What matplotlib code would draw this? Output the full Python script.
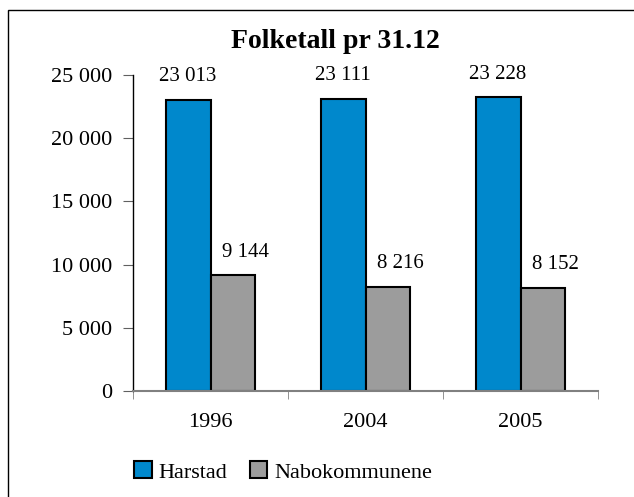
import numpy as np
import matplotlib.pyplot as plt
from matplotlib.patches import Rectangle

# Data
years = ['1996', '2004', '2005']
harstad = [23013, 23111, 23228]
nabo = [9144, 8216, 8152]
yticks = [0, 5000, 10000, 15000, 20000, 25000]
ytick_labels = ['0', '5 000', '10 000', '15 000', '20 000', '25 000']

plt.rcParams['font.family'] = ['Liberation Serif', 'DejaVu Serif']

fig = plt.figure(figsize=(6.34, 4.97), dpi=100)
ax = fig.add_axes([133 / 634, 106 / 497, 465 / 634, 316 / 497])

x = np.arange(len(years))
w = 0.29
b1 = ax.bar(x - w / 2, harstad, w, color='#0088CC', edgecolor='black', linewidth=1.5, label='Harstad')
b2 = ax.bar(x + w / 2, nabo, w, color='#9C9C9C', edgecolor='black', linewidth=1.5, label='Nabokommunene')

# value labels, space as thousands separator (grey ones sit a bit to the right)
for bars, vals, dx in [(b1, harstad, 0), (b2, nabo, 9)]:
    for r, v in zip(bars, vals):
        ax.annotate(f'{v:,}'.replace(',', ' '), (r.get_x() + r.get_width() / 2, v),
                    xytext=(dx, 10), textcoords='offset points', ha='center', va='bottom', fontsize=15)

ax.set_xlim(-0.5, 2.5)
ax.set_ylim(0, 25000)
ax.set_yticks(yticks)
ax.set_yticklabels(ytick_labels, fontsize=16)
ax.set_xticks(x)
ax.set_xticklabels(years, fontsize=16)
ax.tick_params(axis='x', length=0, pad=16)
ax.set_xticks([-0.5, 0.5, 1.5, 2.5], minor=True)
ax.tick_params(axis='x', which='minor', length=6, color='#808080', direction='out')
ax.tick_params(axis='y', length=7, color='#606060', pad=8)

for s in ['top', 'right']:
    ax.spines[s].set_visible(False)
ax.spines['left'].set_color('black')
ax.spines['left'].set_linewidth(1)
ax.spines['bottom'].set_color('#808080')
ax.spines['bottom'].set_linewidth(1.5)

fig.text(335 / 634, 1 - 42 / 497, 'Folketall pr 31.12', ha='center', va='center',
         fontsize=20, fontweight='bold')

fig.legend(handles=[b1, b2], loc='center', bbox_to_anchor=(283 / 634, 1 - 472 / 497),
           ncol=2, frameon=False, fontsize=16, handlelength=0.8, handleheight=0.8,
           handletextpad=0.3, columnspacing=1.0)

# outer frame (only left and top edges visible in the original)
fig.patches.append(Rectangle((8 / 634, -0.1), 1.2, 1.1 - 10 / 497, transform=fig.transFigure,
                             fill=False, edgecolor='black', linewidth=1))

fig.savefig('out.png', dpi=100)
